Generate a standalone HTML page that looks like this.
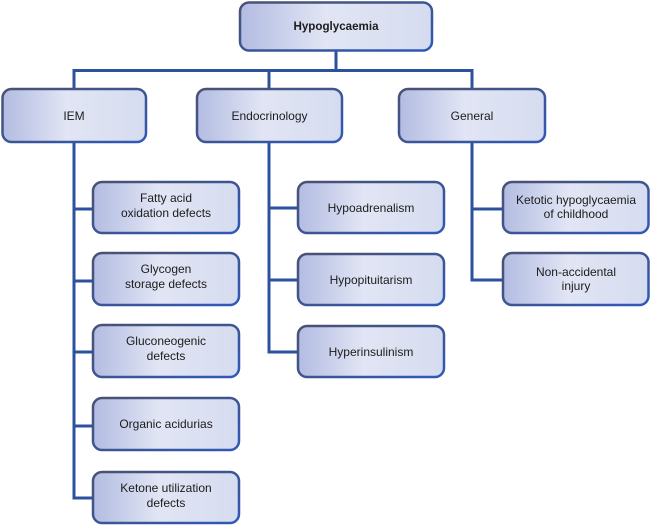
<!DOCTYPE html>
<html><head><meta charset="utf-8"><style>
html,body{margin:0;padding:0;background:#fff;}
svg{display:block;}
text{font-family:"Liberation Sans",Arial,sans-serif;font-size:12px;fill:#1c1c1c;text-anchor:middle;}
</style></head><body>
<svg width="650" height="525" viewBox="0 0 650 525" xmlns="http://www.w3.org/2000/svg">
<defs>
<linearGradient id="fill" x1="0" y1="0" x2="1" y2="0">
<stop offset="0" stop-color="#b3bce2"/>
<stop offset="0.45" stop-color="#e1e5f4"/>
<stop offset="1" stop-color="#d6dcf0"/>
</linearGradient>
<linearGradient id="strk" x1="0" y1="0" x2="1" y2="1">
<stop offset="0" stop-color="#4a5272"/>
<stop offset="0.5" stop-color="#3d5592"/>
<stop offset="1" stop-color="#2f58b8"/>
</linearGradient>
</defs>
<g stroke="#2c519f" stroke-width="3" fill="none" stroke-linecap="square">
<path d="M336 50 V70.5"/>
<path d="M74 70.5 H472"/>
<path d="M74 70.5 V498 M74 209 H93 M74 281 H93 M74 352 H93 M74 426 H93 M74 498 H93"/>
<path d="M269 70.5 V352 M269 208 H298 M269 280 H298 M269 352 H298"/>
<path d="M472 70.5 V280 M472 209 H503 M472 280 H503"/>
</g>
<g fill="url(#fill)" stroke="url(#strk)" stroke-width="2.5">
<rect x="240" y="2.5" width="192" height="48" rx="9"/>
<rect x="2.5" y="89" width="143.5" height="53" rx="9"/>
<rect x="197" y="89" width="145" height="53" rx="9"/>
<rect x="399" y="89" width="146" height="53" rx="9"/>
<rect x="93" y="182" width="146" height="51" rx="9"/>
<rect x="93" y="253" width="146" height="52" rx="9"/>
<rect x="93" y="325" width="146" height="52" rx="9"/>
<rect x="93" y="398" width="146" height="52" rx="9"/>
<rect x="93" y="472" width="146" height="51" rx="9"/>
<rect x="298" y="182" width="146" height="51" rx="9"/>
<rect x="298" y="254" width="146" height="51" rx="9"/>
<rect x="298" y="326" width="146" height="51" rx="9"/>
<rect x="503" y="182" width="145.5" height="51" rx="9"/>
<rect x="503" y="253" width="145.5" height="52" rx="9"/>
</g>
<text x="336" y="30" style="font-weight:bold;font-size:11.6px">Hypoglycaemia</text>
<text x="74" y="120">IEM</text>
<text x="269.5" y="120">Endocrinology</text>
<text x="472" y="120">General</text>
<text x="166" y="202">Fatty acid</text>
<text x="166" y="217">oxidation defects</text>
<text x="166" y="273">Glycogen</text>
<text x="166" y="288">storage defects</text>
<text x="166" y="345">Gluconeogenic</text>
<text x="166" y="360">defects</text>
<text x="166" y="428">Organic acidurias</text>
<text x="166" y="492">Ketone utilization</text>
<text x="166" y="507">defects</text>
<text x="371" y="212">Hypoadrenalism</text>
<text x="371" y="284">Hypopituitarism</text>
<text x="371" y="356">Hyperinsulinism</text>
<text x="576" y="204">Ketotic hypoglycaemia</text>
<text x="576" y="218">of childhood</text>
<text x="576" y="276">Non-accidental</text>
<text x="576" y="290">injury</text>
</svg>
</body></html>
